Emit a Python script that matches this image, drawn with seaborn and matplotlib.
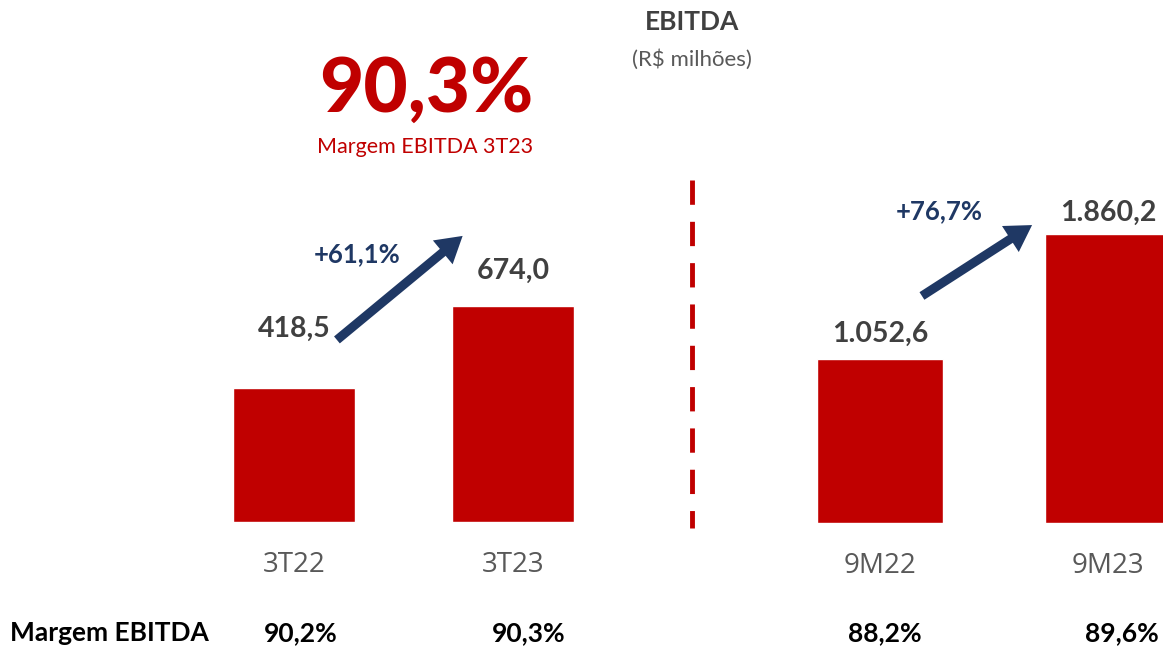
import matplotlib
matplotlib.use('Agg')
import matplotlib.pyplot as plt
import matplotlib.transforms as mtransforms
import seaborn as sns

# Dados do gráfico (R$ milhões)
trimestres = ['3T22', '3T23']
ebitda_tri = [418.5, 674.0]
periodos_9m = ['9M22', '9M23']
ebitda_9m = [1052.6, 1860.2]
margens = [90.2, 90.3, 88.2, 89.6]
var_tri = '+61,1%'
var_9m = '+76,7%'
margem_destaque = '90,3%'

VERMELHO = '#C00000'
AZUL = '#1F3864'
CINZA = '#404040'
CINZA_CAT = '#595959'


def fmt_br(v):
    s = f'{v:,.1f}'
    return s.replace(',', 'X').replace('.', ',').replace('X', '.')


sns.set_theme(style='white')
plt.rcParams['font.family'] = ['Lato', 'DejaVu Sans']

fig = plt.figure(figsize=(11.63, 6.46), dpi=100)
W, H = 1163, 646

# eixo esquerdo (trimestre) e eixo direito (9 meses), escalas separadas
ax1 = fig.add_axes([184.5 / W, (H - 522) / H, 438 / W, 320 / H])
ax2 = fig.add_axes([766 / W, (H - 523) / H, 456 / W, 311 / H])

sns.barplot(x=trimestres, y=ebitda_tri, ax=ax1, color=VERMELHO, saturation=1, width=0.557)
sns.barplot(x=periodos_9m, y=ebitda_9m, ax=ax2, color=VERMELHO, saturation=1, width=0.553)
ax1.set_ylim(0, 1000)
ax2.set_ylim(0, 2000)

for ax in (ax1, ax2):
    ax.set_xlim(-0.5, 1.5)
    sns.despine(ax=ax, left=True, bottom=True)
    ax.set_yticks([])
    ax.set_ylabel('')
    ax.tick_params(axis='x', length=0, pad=21, labelsize=20, labelcolor=CINZA_CAT)
    for t in ax.get_xticklabels():
        t.set_fontfamily(['Open Sans', 'DejaVu Sans'])

# rótulos de valor
offs1 = [33, 16]
offs2 = [9, 6]
for i, v in enumerate(ebitda_tri):
    ax1.annotate(fmt_br(v), (i, v), xytext=(0, offs1[i]), textcoords='offset points',
                 ha='center', va='bottom', fontsize=20.5, fontweight='bold', color=CINZA,
                 annotation_clip=False)
for i, v in enumerate(ebitda_9m):
    ax2.annotate(fmt_br(v), (i, v), xytext=(0, offs2[i]), textcoords='offset points',
                 ha='center', va='bottom', fontsize=20.5, fontweight='bold', color=CINZA,
                 annotation_clip=False)

# setas de crescimento
seta = dict(arrowstyle='-|>,head_length=0.75,head_width=0.45', color=AZUL, lw=6.5,
            shrinkA=0, shrinkB=0, joinstyle='miter', capstyle='butt')
ax1.annotate('', xy=(0.77, 894), xytext=(0.196, 569), arrowprops=seta, annotation_clip=False)
ax2.annotate('', xy=(0.667, 1916), xytext=(0.184, 1460), arrowprops=seta, annotation_clip=False)
ax1.text(0.29, 838, var_tri, ha='center', va='center', fontsize=18.5, fontweight='bold', color=AZUL)
ax2.text(0.26, 2005, var_9m, ha='center', va='center', fontsize=18.5, fontweight='bold', color=AZUL,
         clip_on=False)

# linha tracejada divisória
fig.add_artist(plt.Line2D([692 / W, 692 / W], [(H - 180) / H, (H - 528) / H], color=VERMELHO,
                          lw=3.5, linestyle=(0, (5, 3.5))))

# títulos
fig.text(692 / W, 1 - 22 / H, 'EBITDA', ha='center', va='center', fontsize=19,
         fontweight='bold', color=CINZA)
fig.text(692 / W, 1 - 60 / H, '(R$ milhões)', ha='center', va='center', fontsize=16,
         color=CINZA_CAT)
fig.text(426 / W, 1 - 90 / H, margem_destaque, ha='center', va='center', fontsize=55,
         fontweight='black', color=VERMELHO)
fig.text(425 / W, 1 - 147 / H, 'Margem EBITDA 3T23', ha='center', va='center', fontsize=15.5,
         color=VERMELHO)

# linha de margens
y_marg = 1 - 633 / H
fig.text(10 / W, y_marg, 'Margem EBITDA', ha='left', va='center', fontsize=19,
         fontweight='bold', color='black')
tr1 = mtransforms.blended_transform_factory(ax1.transData, fig.transFigure)
tr2 = mtransforms.blended_transform_factory(ax2.transData, fig.transFigure)
desloc = [0.03, 0.07, 0.02, 0.06]
for i, m in enumerate(margens):
    ax = ax1 if i < 2 else ax2
    tr = tr1 if i < 2 else tr2
    ax.text((i % 2) + desloc[i], y_marg, f'{m:.1f}%'.replace('.', ','), transform=tr,
            ha='center', va='center', fontsize=19, fontweight='bold', color='black',
            clip_on=False)

fig.savefig('out.png', dpi=100, facecolor='white')
